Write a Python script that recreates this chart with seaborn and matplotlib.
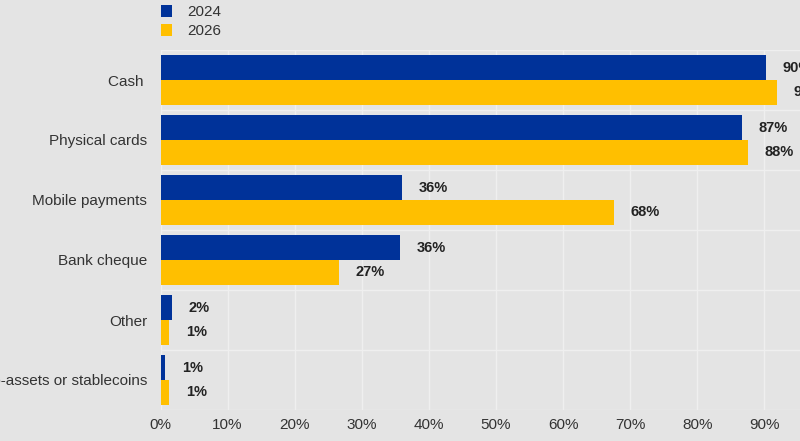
import seaborn as sns
import matplotlib.pyplot as plt
import matplotlib.ticker as mtick
import pandas as pd

# data
categories = ['Cash ', 'Physical cards', 'Mobile payments', 'Bank cheque', 'Other',
              'Crypto-assets or stablecoins']
vals_2024 = [90.2, 86.7, 36.0, 35.7, 1.7, 0.7]
vals_2026 = [91.9, 87.6, 67.6, 26.6, 1.3, 1.3]
years = ['2024', '2026']
colors = {'2024': '#003299', '2026': '#ffbf00'}
xticks = list(range(0, 100, 10))

df = pd.DataFrame({
    'category': categories * 2,
    'year': [years[0]] * len(categories) + [years[1]] * len(categories),
    'share': vals_2024 + vals_2026,
})

bg = '#e4e4e4'
sns.set_style('white')
plt.rcParams['font.family'] = ['Liberation Sans', 'DejaVu Sans']
plt.rcParams['text.color'] = '#333333'

fig = plt.figure(figsize=(8, 4.41), dpi=100, facecolor=bg)
# plot area runs past the right edge, as in the cropped reference
ax = fig.add_axes([160.5 / 800, 31 / 441, 671 / 800, 360 / 441])
ax.set_facecolor(bg)

sns.barplot(data=df, y='category', x='share', hue='year', orient='h',
            palette=colors, width=0.82, linewidth=0, saturation=1, ax=ax)

for cont in ax.containers:
    ax.bar_label(cont, labels=[f'{v:.0f}%' for v in cont.datavalues],
                 padding=12, fontsize=10.5, fontweight='bold', color='#222222')

ax.set_xlim(0, 100)
ax.set_ylim(5.5, -0.5)
ax.set_xticks(xticks)
ax.xaxis.set_major_formatter(mtick.PercentFormatter(decimals=0))
ax.axvline(100, color='#efefef', linewidth=1, zorder=0)
ax.set_yticks([i + 0.5 for i in range(-1, 6)], minor=True)
ax.grid(axis='x', which='major', color='#efefef', linewidth=1)
ax.grid(axis='y', which='minor', color='#efefef', linewidth=1)
ax.set_axisbelow(True)
ax.tick_params(axis='both', which='both', length=0, labelsize=11, colors='#333333')
ax.tick_params(axis='y', pad=9.5)
ax.tick_params(axis='x', pad=6)
ax.set_xlabel('')
ax.set_ylabel('')
sns.despine(ax=ax, left=True, bottom=True)

sns.move_legend(ax, 'lower left', bbox_to_anchor=(0, 1.033), frameon=False, title=None,
                handlelength=0.78, handleheight=0.78, handletextpad=1.0,
                labelspacing=0.3, borderpad=0, borderaxespad=0, fontsize=11)

fig.savefig('out.png', dpi=100, facecolor=bg)
